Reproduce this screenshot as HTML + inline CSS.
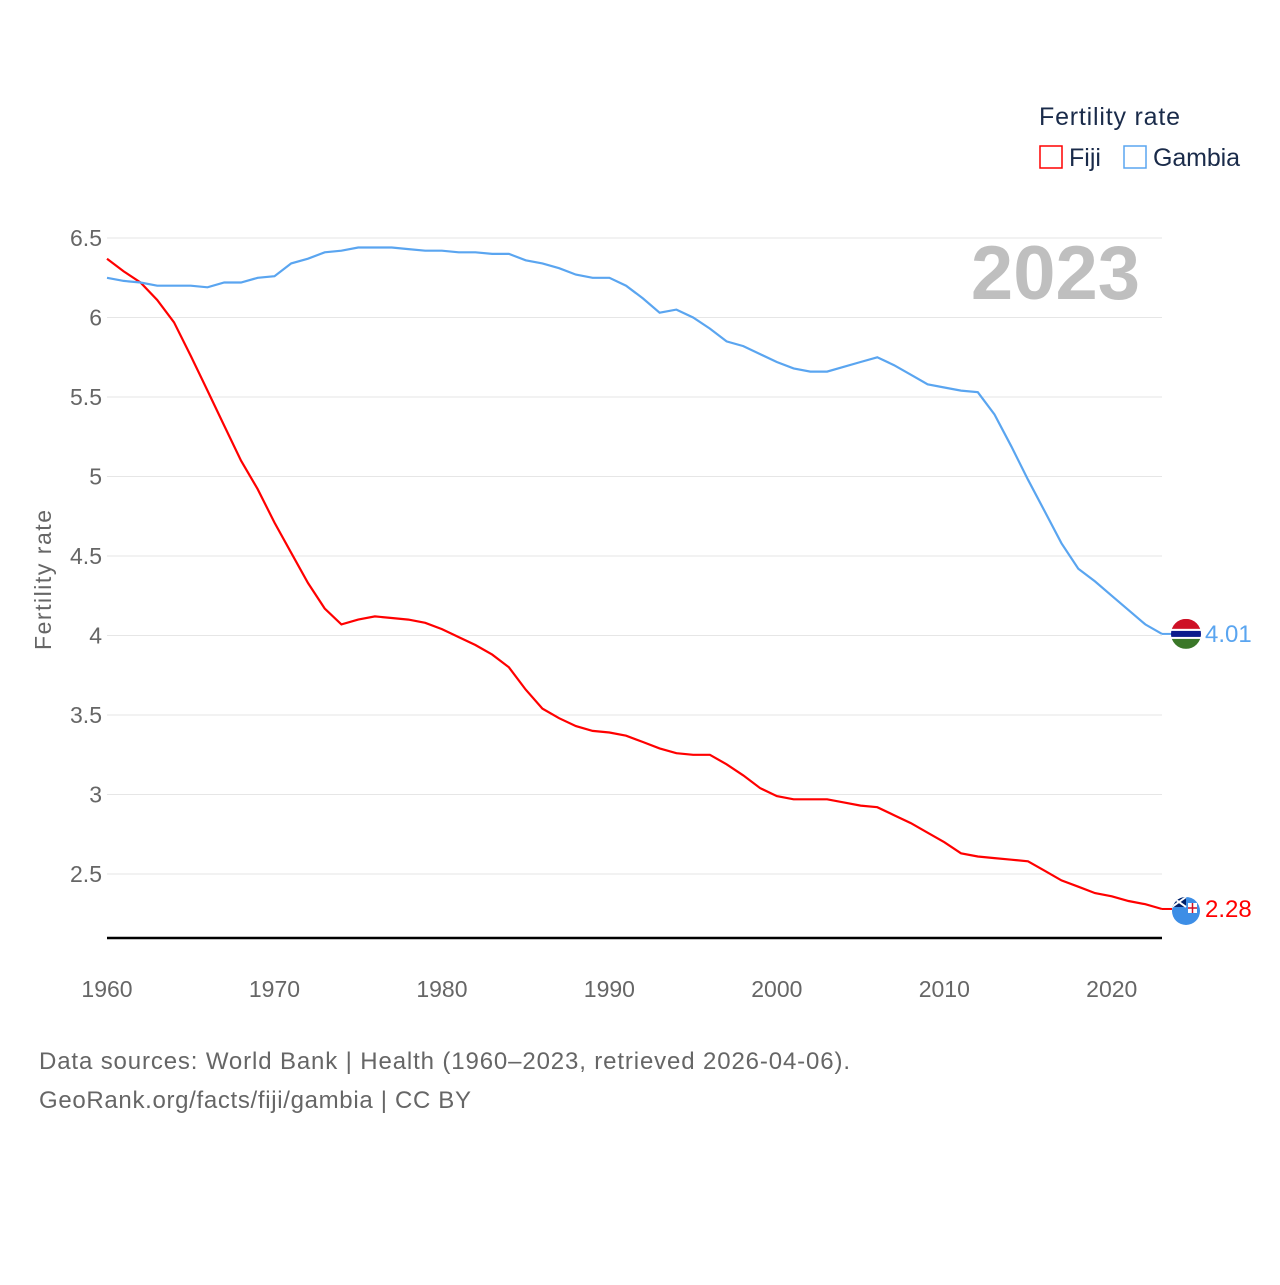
<!DOCTYPE html>
<html><head><meta charset="utf-8"><style>
body{margin:0;background:#fff;}
svg text{font-family:"Liberation Sans",sans-serif;}
</style></head><body>
<svg width="1280" height="1280" viewBox="0 0 1280 1280">
<g id="grid"></g>
<g id="yticks"></g>
<g id="xticks"></g>
<line x1="107" y1="938" x2="1162" y2="938" stroke="#000" stroke-width="2.5"/>
<text x="51" y="580" transform="rotate(-90 51 580)" text-anchor="middle" font-size="23" fill="#666" textLength="140">Fertility rate</text>
<text x="1140" y="299" text-anchor="end" font-size="76" font-weight="bold" fill="#bfbfbf">2023</text>
<path id="fiji" fill="none" stroke="#ff0000" stroke-width="2.2"/>
<path id="gambia" fill="none" stroke="#5aa5f0" stroke-width="2.2"/>
<g>
<text x="1039" y="125" font-size="25" fill="#1a2b4a" textLength="141">Fertility rate</text>
<g><rect x="1040" y="146" width="22" height="22" fill="none" stroke="#ff0000" stroke-width="1.5"/><text x="1069" y="166" font-size="25" fill="#1a2b4a">Fiji</text></g>
<g><rect x="1124" y="146" width="22" height="22" fill="none" stroke="#5aa5f0" stroke-width="1.5"/><text x="1153" y="166" font-size="25" fill="#1a2b4a" textLength="87">Gambia</text></g>
</g>
<g id="ends"></g>
<text x="39" y="1069" font-size="24" fill="#666" textLength="811">Data sources: World Bank | Health (1960–2023, retrieved 2026-04-06).</text>
<text x="39" y="1108" font-size="24" fill="#666" textLength="432">GeoRank.org/facts/fiji/gambia | CC BY</text>
</svg>
<script>
const years=[];for(let y=1960;y<=2023;y++)years.push(y);
const fijiValues=[6.37,6.29,6.22,6.11,5.97,5.76,5.54,5.32,5.10,4.92,4.71,4.52,4.33,4.17,4.07,4.10,4.12,4.11,4.10,4.08,
4.04,3.99,3.94,3.88,3.80,3.66,3.54,3.48,3.43,3.40,3.39,3.37,3.33,3.29,3.26,3.25,3.25,3.19,3.12,3.04,
2.99,2.97,2.97,2.97,2.95,2.93,2.92,2.87,2.82,2.76,2.70,2.63,2.61,2.60,2.59,2.58,2.52,2.46,2.42,2.38,2.36,2.33,2.31,2.28];
const gambiaValues=[6.25,6.23,6.22,6.20,6.20,6.20,6.19,6.22,6.22,6.25,6.26,6.34,6.37,6.41,6.42,6.44,6.44,6.44,6.43,6.42,
6.42,6.41,6.41,6.40,6.40,6.36,6.34,6.31,6.27,6.25,6.25,6.20,6.12,6.03,6.05,6.00,5.93,5.85,5.82,5.77,
5.72,5.68,5.66,5.66,5.69,5.72,5.75,5.70,5.64,5.58,5.56,5.54,5.53,5.39,5.19,4.98,4.78,4.58,4.42,4.34,4.25,4.16,4.07,4.01];
const yTicks=[2.5,3,3.5,4,4.5,5,5.5,6,6.5];
const yTickLabels=["2.5","3","3.5","4","4.5","5","5.5","6","6.5"];
const xTicks=[1960,1970,1980,1990,2000,2010,2020];
const X=y=>107+(y-1960)*(1162-107)/63;
const Y=v=>238+(6.5-v)*159;
const NS='http://www.w3.org/2000/svg';
const grid=document.getElementById('grid'),yt=document.getElementById('yticks'),xt=document.getElementById('xticks');
yTicks.forEach((v,i)=>{
 const l=document.createElementNS(NS,'line');
 l.setAttribute('x1',107);l.setAttribute('x2',1162);l.setAttribute('y1',Y(v));l.setAttribute('y2',Y(v));
 l.setAttribute('stroke','#e6e6e6');l.setAttribute('stroke-width','1');
 
 
 grid.appendChild(l);
 const t=document.createElementNS(NS,'text');
 t.setAttribute('x',102);t.setAttribute('y',Y(v)+8);t.setAttribute('text-anchor','end');
 t.setAttribute('font-size','23');t.setAttribute('fill','#666');t.textContent=yTickLabels[i];
 
 
 yt.appendChild(t);
});
xTicks.forEach(y=>{
 const t=document.createElementNS(NS,'text');
 t.setAttribute('x',X(y));t.setAttribute('y',997);t.setAttribute('text-anchor','middle');
 t.setAttribute('font-size','23');t.setAttribute('fill','#666');t.textContent=y;
 
 
 xt.appendChild(t);
});
const path=vals=>vals.map((v,i)=>(i?'L':'M')+X(years[i]).toFixed(1)+','+Y(v).toFixed(1)).join('');
document.getElementById('fiji').setAttribute('d',path(fijiValues));
document.getElementById('gambia').setAttribute('d',path(gambiaValues));
const ends=document.getElementById('ends');
function endMark(vals,color,name,flag){
 const v=vals[vals.length-1],y=Y(v),x=X(2023);
 const g=document.createElementNS(NS,'g');
 
 
 g.innerHTML=`<line x1="${x}" y1="${y}" x2="${x+10}" y2="${y}" stroke="${color}" stroke-width="2"/>`+flag(1186,y)+
 `<text x="1205" y="${y+8}" font-size="24" fill="${color}">${v.toFixed(2)}</text>`;
 ends.appendChild(g);
}
endMark(gambiaValues,'#5aa5f0','gambia',(cx,cy)=>`<clipPath id="cg"><circle cx="${cx}" cy="${cy}" r="15"/></clipPath><g clip-path="url(#cg)"><rect x="${cx-15}" y="${cy-15}" width="30" height="10" fill="#ce1126"/><rect x="${cx-15}" y="${cy-5}" width="30" height="10" fill="#fff"/><rect x="${cx-15}" y="${cy-3}" width="30" height="6" fill="#0c1c8c"/><rect x="${cx-15}" y="${cy+5}" width="30" height="10" fill="#3a7728"/></g>`);
endMark(fijiValues,'#ff0000','fiji',(cx,cy)=>`<clipPath id="cf"><circle cx="${cx}" cy="${cy+2}" r="14"/></clipPath><g clip-path="url(#cf)"><rect x="${cx-15}" y="${cy-13}" width="30" height="30" fill="#3d8ee6"/><rect x="${cx-14}" y="${cy-12}" width="14" height="10" fill="#012169"/><path d="M${cx-14},${cy-12}L${cx},${cy-2}M${cx},${cy-12}L${cx-14},${cy-2}" stroke="#fff" stroke-width="2"/><rect x="${cx+2}" y="${cy-6}" width="9" height="10" fill="#fff"/><path d="M${cx+6.5},${cy-6}V${cy+4}M${cx+2},${cy-1}H${cx+11}" stroke="#ce1126" stroke-width="1.5"/></g>`);
</script>
</body></html>
